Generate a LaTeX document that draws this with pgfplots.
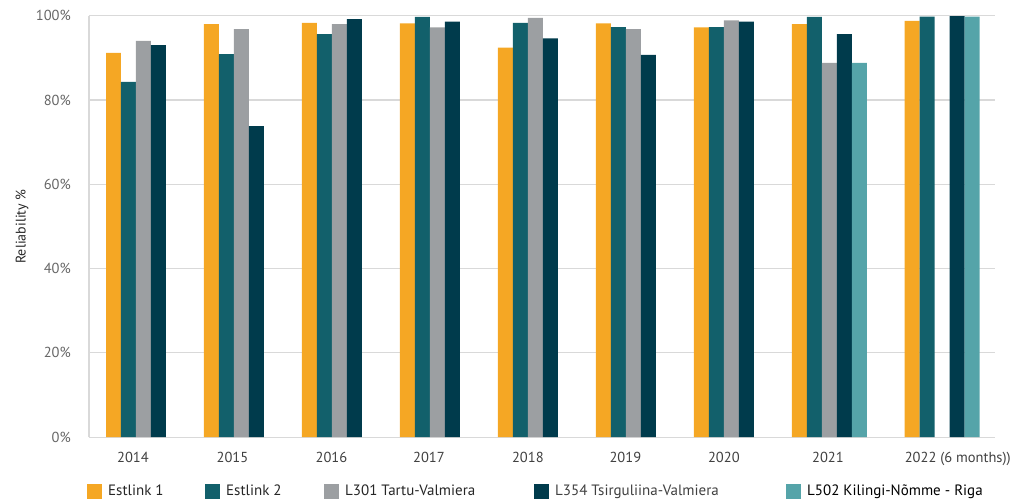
\documentclass[border=0pt]{standalone}
\usepackage{fontspec}
\setmainfont{PT Sans}
\usepackage{pgfplots}
\pgfplotsset{compat=1.18}
\definecolor{cA}{HTML}{F5A724}
\definecolor{cB}{HTML}{12606B}
\definecolor{cC}{HTML}{9C9FA2}
\definecolor{cD}{HTML}{003B4C}
\definecolor{cE}{HTML}{55A4A9}
\definecolor{gridc}{HTML}{D9D9D9}
\definecolor{txt}{HTML}{404040}
\begin{document}
\begin{tikzpicture}
\begin{axis}[
  name=ax,
  scale only axis,
  width=906pt, height=421.5pt,
  xmin=-0.556, xmax=8.69,
  ymin=0, ymax=100,
  axis x line*=bottom, axis y line*=left,
  axis line style={draw=gridc, line width=1.2pt, -},
  ymajorgrids, grid style={draw=gridc, line width=1.2pt},
  major tick length=0pt,
  ytick={0,20,40,60,80,100},
  yticklabels={0\%,20\%,40\%,60\%,80\%,100\%},
  xtick={-0.107,0.908,1.918,2.913,3.923,4.918,5.923,6.985,8.31},
  xticklabels={2014,2015,2016,2017,2018,2019,2020,2021,2022 (6 months))},
  tick label style={font=\fontsize{14.5pt}{17pt}\selectfont, text=txt},
  yticklabel style={anchor=east, inner sep=0pt, xshift=-18pt, text=black!60},
  xticklabel style={anchor=north, inner sep=0pt, yshift=-15pt, text height=10.5pt, text depth=3pt},
  ylabel={Reliability \%},
  every axis y label/.style={at={(axis description cs:-0.074,0.5)}, rotate=90, anchor=center, font=\fontsize{14pt}{17pt}\selectfont, text=black!85},
  ybar, bar width=0.153,
  legend columns=5,
  legend image code/.code={\fill[#1] (0pt,-7.5pt) rectangle (15pt,7.5pt);},
  legend style={at={(axis description cs:-0.0022,-0.1277)}, anchor=west, draw=none, fill=none, inner sep=0pt, column sep=0pt, row sep=0pt, font=\fontsize{15pt}{18pt}\selectfont, text=black!85, nodes={inner sep=0pt}},
  legend cell align=left,
]
\addplot[fill=cA, draw=none, bar shift=-0.306] coordinates {(0,91.2) (1,98.0) (2,98.3) (3,98.2) (4,92.4) (5,98.2) (6,97.2) (7,98.0) (8.15,98.8)};
\addlegendentry{\hspace{6pt}\makebox[97pt][l]{Estlink 1}}
\addplot[fill=cB, draw=none, bar shift=-0.153] coordinates {(0,84.3) (1,90.9) (2,95.6) (3,99.7) (4,98.3) (5,97.3) (6,97.3) (7,99.7) (8.15,99.8)};
\addlegendentry{\hspace{6pt}\makebox[98pt][l]{Estlink 2}}
\addplot[fill=cC, draw=none, bar shift=0] coordinates {(0,94.0) (1,96.8) (2,98.0) (3,97.2) (4,99.5) (5,96.8) (6,98.9) (7,88.8)};
\addlegendentry{\hspace{6pt}\makebox[189pt][l]{L301 Tartu-Valmiera}}
\addplot[fill=cD, draw=none, bar shift=0.153] coordinates {(0,93.0) (1,73.8) (2,99.2) (3,98.6) (4,94.6) (5,90.7) (6,98.6) (7,95.6) (8.15,99.9)};
\addlegendentry{\hspace{6pt}\makebox[231pt][l]{\color{black!75}L354 Tsirguliina-Valmiera}}
\addplot[fill=cE, draw=none, bar shift=0.306] coordinates {(7,88.8) (8.15,99.8)};
\addlegendentry{\hspace{6pt}{\color{black}L502 Kilingi-Nõmme - Riga}}
\end{axis}
\pgfresetboundingbox
\path[use as bounding box] ([xshift=-89pt,yshift=-65.8pt]ax.south west) rectangle ([xshift=25pt,yshift=15.7pt]ax.north east);
\end{tikzpicture}
\end{document}
